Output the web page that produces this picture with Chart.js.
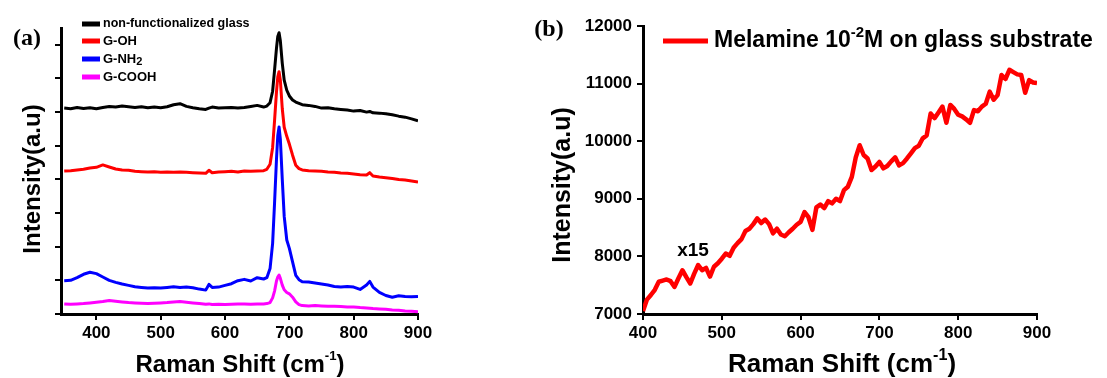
<!DOCTYPE html>
<html>
<head>
<meta charset="utf-8">
<script src="https://cdn.jsdelivr.net/npm/chart.js@4.4.1/dist/chart.umd.min.js"></script>
<style>
  html, body { margin: 0; padding: 0; background: #fff; }
  #wrap { position: relative; width: 1107px; height: 378px; overflow: hidden; }
  .box { position: absolute; top: 0; height: 378px; }
  #boxA { left: 0; width: 470px; }
  #boxB { left: 470px; width: 637px; }
</style>
</head>
<body>
<div id="wrap">
  <div class="box" id="boxA"><canvas id="chartA" width="470" height="378"></canvas></div>
  <div class="box" id="boxB"><canvas id="chartB" width="637" height="378"></canvas></div>
</div>
<script>
// ---- panel (a): four spectra, offset, arbitrary units ----
const shiftA = [350, 360, 370, 380, 390, 400, 410, 420, 430, 440, 450, 460, 470, 480, 490, 500,
  510, 520, 530, 540, 550, 560, 570, 575, 580, 590, 600, 610, 620, 630, 640, 650, 660,
  665, 670, 674, 677, 680, 682, 684, 686, 689, 692, 696, 700, 705, 710, 715, 720,
  730, 740, 750, 760, 770, 780, 790, 800, 810, 820, 825, 830, 840, 850, 860, 870, 880, 890, 900];

const glassBare = [6.12, 6.10, 6.14, 6.11, 6.13, 6.10, 6.14, 6.17, 6.15, 6.18, 6.16, 6.14, 6.16, 6.13, 6.15, 6.13,
  6.16, 6.22, 6.25, 6.17, 6.13, 6.10, 6.08, 6.12, 6.15, 6.12, 6.13, 6.14, 6.12, 6.14, 6.17, 6.20, 6.15,
  6.18, 6.28, 6.62, 7.25, 7.90, 8.25, 8.36, 8.12, 7.45, 6.95, 6.65, 6.48, 6.36, 6.30, 6.26, 6.22,
  6.20, 6.17, 6.12, 6.13, 6.10, 6.08, 6.06, 6.03, 6.05, 6.00, 6.02, 5.98, 5.97, 5.95, 5.92, 5.88, 5.85, 5.80, 5.74];

const glassOH = [4.25, 4.26, 4.28, 4.30, 4.34, 4.36, 4.43, 4.37, 4.31, 4.28, 4.27, 4.24, 4.23, 4.22, 4.23, 4.21,
  4.22, 4.21, 4.22, 4.21, 4.20, 4.19, 4.18, 4.27, 4.20, 4.22, 4.23, 4.24, 4.22, 4.25, 4.24, 4.25, 4.26,
  4.30, 4.45, 4.95, 5.75, 6.60, 7.05, 7.20, 6.95, 6.10, 5.55, 5.28, 5.05, 4.72, 4.42, 4.32, 4.28,
  4.26, 4.25, 4.24, 4.22, 4.21, 4.19, 4.18, 4.16, 4.14, 4.13, 4.20, 4.10, 4.07, 4.05, 4.03, 4.00, 3.98, 3.95, 3.92];

const glassNH2 = [0.99, 1.00, 1.08, 1.18, 1.24, 1.20, 1.10, 1.00, 0.94, 0.89, 0.85, 0.81, 0.79, 0.77, 0.78, 0.77,
  0.79, 0.81, 0.79, 0.80, 0.78, 0.74, 0.71, 0.88, 0.79, 0.80, 0.85, 0.90, 0.99, 1.03, 0.98, 1.08, 1.04,
  1.08, 1.35, 2.10, 3.30, 4.60, 5.30, 5.56, 5.20, 4.00, 2.90, 2.20, 1.95, 1.55, 1.15, 1.02, 0.96,
  0.95, 0.92, 0.89, 0.86, 0.82, 0.80, 0.82, 0.80, 0.73, 0.86, 0.97, 0.80, 0.64, 0.55, 0.50, 0.54, 0.52, 0.51, 0.52];

const glassCOOH = [0.30, 0.29, 0.30, 0.31, 0.33, 0.35, 0.37, 0.40, 0.38, 0.36, 0.34, 0.33, 0.32, 0.31, 0.32, 0.33,
  0.34, 0.36, 0.37, 0.35, 0.33, 0.31, 0.29, 0.30, 0.28, 0.29, 0.28, 0.29, 0.30, 0.30, 0.29, 0.30, 0.30,
  0.31, 0.34, 0.48, 0.68, 0.98, 1.10, 1.16, 1.06, 0.86, 0.72, 0.64, 0.60, 0.50, 0.36, 0.28, 0.25,
  0.24, 0.25, 0.24, 0.23, 0.23, 0.22, 0.21, 0.21, 0.19, 0.18, 0.17, 0.16, 0.15, 0.14, 0.12, 0.11, 0.09, 0.08, 0.07];

const seriesA = [
  { name: 'non-functionalized glass', values: glassBare, color: '#000000' },
  { name: 'G-OH', values: glassOH, color: '#ff0000' },
  { name: 'G-NH2', values: glassNH2, color: '#0000ff' },
  { name: 'G-COOH', values: glassCOOH, color: '#ff00ff' }
];

// ---- panel (b): melamine 10^-2 M on glass ----
const shiftB = [400, 405, 410, 415, 420, 425, 430, 435, 440, 445, 450, 455, 460, 465, 470, 475, 480, 485, 490, 495,
  500, 505, 510, 515, 520, 525, 530, 535, 540, 545, 550, 555, 560, 565, 570, 575, 580, 585, 590, 595,
  600, 605, 610, 615, 620, 625, 630, 635, 640, 645, 650, 655, 660, 665, 670, 675, 680, 685, 690, 695,
  700, 705, 710, 715, 720, 725, 730, 735, 740, 745, 750, 755, 760, 765, 770, 775, 780, 785, 790, 795,
  800, 805, 810, 815, 820, 825, 830, 835, 840, 845, 850, 855, 860, 865, 870, 875, 880, 885, 890, 895, 900];

const melamine = [7050, 7250, 7330, 7420, 7560, 7580, 7600, 7570, 7470, 7620, 7760, 7640, 7530, 7700, 7850, 7760, 7800, 7650, 7820, 7880,
  7960, 8050, 8010, 8150, 8230, 8300, 8440, 8480, 8560, 8660, 8580, 8640, 8560, 8400, 8480, 8380, 8350, 8420, 8480, 8550,
  8600, 8770, 8680, 8460, 8850, 8900, 8840, 8960, 8920, 9000, 8960, 9150, 9210, 9380, 9720, 9930, 9760, 9700, 9500, 9560,
  9640, 9530, 9570, 9650, 9720, 9580, 9620, 9700, 9790, 9880, 9920, 10050, 10100, 10480, 10400, 10500, 10600, 10320, 10630, 10560,
  10460, 10430, 10380, 10320, 10540, 10520, 10600, 10650, 10860, 10720, 10800, 11150, 11080, 11240, 11200, 11160, 11150, 10840, 11060, 11020, 11010];

const FONT = '"Liberation Sans", Arial, Helvetica, sans-serif';
Chart.defaults.font.family = FONT;
Chart.defaults.font.weight = 'bold';
Chart.defaults.color = '#000';

function pairs(xs, ys) {
  return xs.map((x, i) => ({ x: x, y: ys[i] }));
}

// text with super/subscripts: parts = [[text, 0|1|-1], ...]
function drawRich(ctx, parts, x, y, size, align, small) {
  const sm = small || 0.6;
  let w = 0;
  parts.forEach(p => {
    ctx.font = 'bold ' + (p[1] ? size * sm : size) + 'px ' + FONT;
    w += ctx.measureText(p[0]).width;
  });
  let cx = align === 'center' ? x - w / 2 : x;
  ctx.textAlign = 'left';
  ctx.textBaseline = 'middle';
  parts.forEach(p => {
    ctx.font = 'bold ' + (p[1] ? size * sm : size) + 'px ' + FONT;
    let dy = 0;
    if (p[1] === 1) dy = -size * 0.36;
    if (p[1] === -1) dy = size * 0.22;
    ctx.fillText(p[0], cx, y + dy);
    cx += ctx.measureText(p[0]).width;
  });
}

function panelLetter(ctx, txt, x, y) {
  ctx.font = 'bold 24px "Liberation Serif", "Times New Roman", serif';
  ctx.textAlign = 'center';
  ctx.textBaseline = 'middle';
  ctx.fillText(txt, x, y);
}

function axisCommon(min, max, step, showLabels) {
  return {
    type: 'linear',
    min: min,
    max: max,
    grid: { display: true, drawOnChartArea: false, drawTicks: true, tickLength: 6, color: '#000', lineWidth: 2 },
    border: { display: true, color: '#000', width: 3 },
    ticks: { display: showLabels, stepSize: step, includeBounds: false, autoSkip: false, maxRotation: 0,
      padding: 3, color: '#000', font: { size: 17, weight: 'bold' },
      callback: v => String(v) }
  };
}

// ---- chart (a) ----
const xA = axisCommon(345, 900, 100, true);
xA.afterFit = s => { s.height = 64; };
const yA = axisCommon(0, 8.5, 1, false);
yA.afterFit = s => { s.width = 61; };

const extrasA = {
  id: 'extrasA',
  afterDraw(chart) {
    const ctx = chart.ctx;
    ctx.save();
    ctx.fillStyle = '#000';
    panelLetter(ctx, '(a)', 27, 39);
    const rows = [24, 41, 59, 77];
    seriesA.forEach((s, i) => {
      ctx.strokeStyle = s.color;
      ctx.lineWidth = 5;
      ctx.beginPath();
      ctx.moveTo(82, rows[i]);
      ctx.lineTo(100, rows[i]);
      ctx.stroke();
      ctx.fillStyle = '#000';
      const parts = s.name === 'G-NH2' ? [['G-NH', 0], ['2', -1]] : [[s.name, 0]];
      drawRich(ctx, parts, 103, rows[i], i === 0 ? 12.5 : 13, 'left', 0.85);
    });
    drawRich(ctx, [['Raman Shift (cm', 0], ['-1', 1], [')', 0]], 240, 365, 24, 'center', 0.55);
    ctx.translate(33, 179);
    ctx.rotate(-Math.PI / 2);
    drawRich(ctx, [['Intensity(a.u)', 0]], 0, 0, 24, 'center');
    ctx.restore();
  }
};

new Chart(document.getElementById('chartA'), {
  type: 'line',
  data: {
    datasets: seriesA.map(s => ({
      label: s.name,
      data: pairs(shiftA, s.values),
      borderColor: s.color,
      borderWidth: 3,
      pointRadius: 0,
      tension: 0,
      borderJoinStyle: 'round'
    }))
  },
  options: {
    responsive: false,
    animation: false,
    devicePixelRatio: 1,
    layout: { padding: { left: 0, right: 52, top: 28, bottom: 0 } },
    plugins: { legend: { display: false }, tooltip: { enabled: false } },
    scales: { x: xA, y: yA }
  },
  plugins: [extrasA]
});

// ---- chart (b) ----
const xB = axisCommon(400, 900, 100, true);
xB.afterFit = s => { s.height = 64; };
const yB = axisCommon(7000, 12000, 1000, true);
yB.ticks.padding = 5;
yB.afterFit = s => { s.width = 173; };

const extrasB = {
  id: 'extrasB',
  afterDraw(chart) {
    const ctx = chart.ctx;
    ctx.save();
    ctx.fillStyle = '#000';
    panelLetter(ctx, '(b)', 79, 30);
    ctx.strokeStyle = '#ff0000';
    ctx.lineWidth = 5;
    ctx.beginPath();
    ctx.moveTo(193, 41);
    ctx.lineTo(238, 41);
    ctx.stroke();
    drawRich(ctx, [['Melamine 10', 0], ['-2', 1], ['M on glass substrate', 0]], 244, 41, 23, 'left', 0.65);
    drawRich(ctx, [['x15', 0]], 223, 251, 19, 'center');
    drawRich(ctx, [['Raman Shift (cm', 0], ['-1', 1], [')', 0]], 372, 365, 26, 'center', 0.62);
    ctx.translate(93, 185);
    ctx.rotate(-Math.PI / 2);
    drawRich(ctx, [['Intensity(a.u)', 0]], 0, 0, 25, 'center');
    ctx.restore();
  }
};

new Chart(document.getElementById('chartB'), {
  type: 'line',
  data: {
    datasets: [{
      label: 'Melamine 10-2M on glass substrate',
      data: pairs(shiftB, melamine),
      borderColor: '#ff0000',
      borderWidth: 4.5,
      pointRadius: 0,
      tension: 0,
      borderJoinStyle: 'round'
    }]
  },
  options: {
    responsive: false,
    animation: false,
    devicePixelRatio: 1,
    layout: { padding: { left: 0, right: 70, top: 26, bottom: 0 } },
    plugins: { legend: { display: false }, tooltip: { enabled: false } },
    scales: { x: xB, y: yB }
  },
  plugins: [extrasB]
});
</script>
</body>
</html>
